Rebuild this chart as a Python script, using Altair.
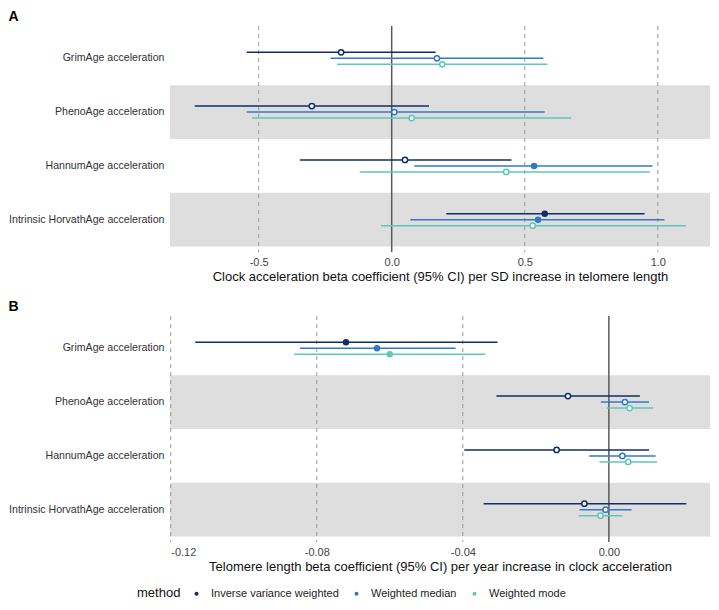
import altair as alt
import pandas as pd

clocks = ["GrimAge acceleration", "PhenoAge acceleration", "HannumAge acceleration",
          "Intrinsic HorvathAge acceleration"]
methods = ["Inverse variance weighted", "Weighted median", "Weighted mode"]
colors = ["#0f2d6b", "#3478c4", "#5ec7b6"]
shaded = [False, True, False, True]

# Panel A (clock-major, method-minor)
a_est = [-0.19, 0.17, 0.19, -0.30, 0.01, 0.075, 0.05, 0.535, 0.43, 0.575, 0.55, 0.53]
a_lo = [-0.545, -0.23, -0.205, -0.74, -0.545, -0.525, -0.345, 0.085, -0.12, 0.205, 0.07, -0.04]
a_hi = [0.165, 0.57, 0.585, 0.14, 0.575, 0.675, 0.45, 0.98, 0.97, 0.95, 1.025, 1.105]
a_sig = [0, 0, 0, 0, 0, 0, 0, 1, 0, 1, 1, 0]
a_ticks = [-0.5, 0.0, 0.5, 1.0]
a_domain = [-0.833, 1.196]

# Panel B
b_est = [-0.072, -0.0635, -0.060, -0.0112, 0.0044, 0.0057, -0.0143, 0.0037, 0.0053,
         -0.0067, -0.0009, -0.0023]
b_lo = [-0.1133, -0.0846, -0.0862, -0.0308, -0.0022, -0.0006, -0.0396, -0.0054, -0.0026,
        -0.0343, -0.0080, -0.0083]
b_hi = [-0.0305, -0.042, -0.0338, 0.0085, 0.011, 0.0121, 0.011, 0.0128, 0.0132,
        0.0212, 0.0062, 0.0037]
b_sig = [1, 1, 1, 0, 0, 0, 0, 0, 0, 0, 0, 0]
b_ticks = [-0.12, -0.08, -0.04, 0.0]
b_domain = [-0.1202, 0.0277]

FONT = "Liberation Sans"
PLOT_W = 540
PLOT_H = 226
STEP = PLOT_H / 4.2

LEGEND = alt.Legend(title="method", orient="none", legendX=-33, legendY=562,
                    direction="horizontal",
                    titleOrient="left", titleFontSize=13, titleFontWeight="normal",
                    titleColor="#111111", labelFontSize=11, labelColor="#222222",
                    symbolSize=16, symbolType="circle", symbolStrokeWidth=0,
                    labelOffset=9, columnPadding=12, titlePadding=10)


def make_df(est, lo, hi, sig):
    rows = []
    i = 0
    for c in clocks:
        for m in methods:
            rows.append(dict(clock=c, method=m, est=est[i], lo=lo[i], hi=hi[i], sig=bool(sig[i])))
            i += 1
    return pd.DataFrame(rows)


shade_df = pd.DataFrame({"clock": clocks, "shade": shaded})


def panel(df, domain, ticks, fmt, xtitle, letter):
    xs = alt.Scale(domain=domain, nice=False, zero=False)
    ys = alt.Scale(domain=clocks, paddingInner=0, paddingOuter=0.1)
    y_enc = alt.Y("clock:N", scale=ys, sort=clocks,
                  axis=alt.Axis(title=None, ticks=False, domain=False, grid=False, labelPadding=6,
                                labelFontSize=10.6, labelColor="#333333", labelLimit=300))
    yoff = alt.YOffset("method:N", sort=methods,
                       scale=alt.Scale(type="point", domain=methods,
                                       range=[STEP / 2 - 9, STEP / 2 + 9]))
    col_scale = alt.Scale(domain=methods, range=colors)
    x_axis = alt.Axis(values=ticks, ticks=False, domain=False, grid=False,
                      labelExpr=("datum.value < 0 ? '-' + format(abs(datum.value), '%s') : "
                                 "format(datum.value, '%s')" % (fmt, fmt)),
                      labelFontSize=11, labelColor="#444444", labelPadding=4, title=xtitle,
                      titleFontSize=13, titleFontWeight="normal", titleColor="#111111",
                      titlePadding=3)

    tick_df = pd.DataFrame({"v": [t for t in ticks if t != 0]})
    zero_df = pd.DataFrame({"v": [0.0]})

    bands = alt.Chart(shade_df).transform_filter("datum.shade").mark_rect(
        color="#dedede", height=STEP).encode(
        y=y_enc, x=alt.value(0), x2=alt.value("width"))

    dashed = alt.Chart(tick_df).mark_rule(color="#9a9a9a", strokeDash=[4, 4], strokeWidth=1).encode(
        x=alt.X("v:Q", scale=xs, axis=x_axis))

    zero = alt.Chart(zero_df).mark_rule(color="#5a5a5a", strokeWidth=1.5).encode(
        x=alt.X("v:Q", scale=xs, axis=x_axis))

    bars = alt.Chart(df).mark_rule(strokeWidth=1.5).encode(
        x=alt.X("lo:Q", scale=xs, axis=x_axis), x2="hi:Q", y=y_enc, yOffset=yoff,
        color=alt.Color("method:N", scale=col_scale, legend=LEGEND))

    open_pts = alt.Chart(df).transform_filter("!datum.sig").mark_point(
        shape="circle", fill="white", fillOpacity=1, opacity=1, strokeWidth=1.5, size=28).encode(
        x=alt.X("est:Q", scale=xs, axis=x_axis), y=y_enc, yOffset=yoff,
        stroke=alt.Stroke("method:N", scale=col_scale, legend=None))

    filled_pts = alt.Chart(df).transform_filter("datum.sig").mark_point(
        shape="circle", filled=True, opacity=1, size=42).encode(
        x=alt.X("est:Q", scale=xs, axis=x_axis), y=y_enc, yOffset=yoff,
        color=alt.Color("method:N", scale=col_scale, legend=LEGEND))

    return alt.layer(bands, dashed, zero, bars, open_pts, filled_pts).properties(
        width=PLOT_W, height=PLOT_H,
        view=alt.ViewBackground(stroke="transparent", strokeWidth=0),
        title=alt.TitleParams(letter, anchor="start", fontSize=14, fontWeight="bold",
                              color="#000000", offset=1))


chart_a = panel(make_df(a_est, a_lo, a_hi, a_sig), a_domain, a_ticks, ".1f",
                "Clock acceleration beta coefficient (95% CI) per SD increase in telomere length", "A")
chart_b = panel(make_df(b_est, b_lo, b_hi, b_sig), b_domain, b_ticks, ".2f",
                "Telomere length beta coefficient (95% CI) per year increase in clock acceleration", "B")

chart = alt.vconcat(chart_a, chart_b, spacing=17).properties(
    padding={"left": 0, "top": 2, "right": 0, "bottom": 0}).configure_view(
    strokeWidth=0, stroke="transparent").configure(font=FONT).configure_axis(
    labelFont=FONT, titleFont=FONT, grid=False).configure_legend(
    labelFont=FONT, titleFont=FONT).configure_title(font=FONT)

chart.save("out.html", embed_options={"renderer": "svg", "actions": False})
